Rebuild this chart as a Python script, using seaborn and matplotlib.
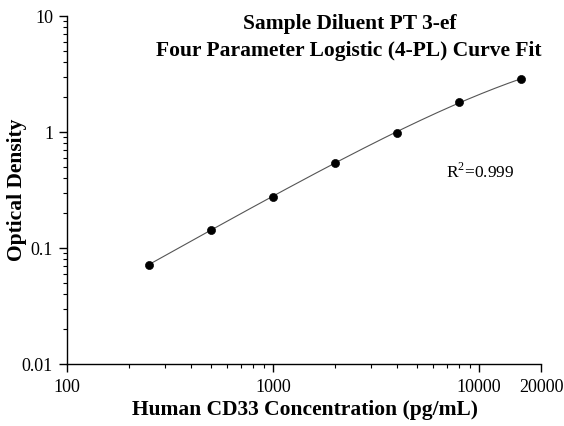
import numpy as np
import pandas as pd
import matplotlib.pyplot as plt
import seaborn as sns
from matplotlib.ticker import FixedLocator, FixedFormatter, LogLocator, NullFormatter

# standard concentrations (pg/mL) and measured optical density
conc = [250, 500, 1000, 2000, 4000, 8000, 16000]
od = [0.072, 0.144, 0.275, 0.538, 0.99, 1.83, 2.88]

# 4-PL fit parameters (bottom, slope, EC50, top)
fit_a, fit_b, fit_c, fit_d = 0.0, 1.0, 26000.0, 7.56

x_ticks = [100, 1000, 10000, 20000]
x_tick_labels = ["100", "1000", "10000", "20000"]
y_ticks = [0.01, 0.1, 1, 10]
y_tick_labels = ["0.01", "0.1", "1", "10"]

df = pd.DataFrame({"conc": conc, "od": od})
xs = np.logspace(np.log10(conc[0]), np.log10(conc[-1]), 200)
fit = pd.DataFrame({"conc": xs, "od": fit_d + (fit_a - fit_d) / (1 + (xs / fit_c) ** fit_b)})

sns.set_style("ticks")
plt.rcParams["font.family"] = ["Liberation Serif", "DejaVu Serif"]
plt.rcParams["mathtext.fontset"] = "custom"
plt.rcParams["mathtext.rm"] = "Liberation Serif"
plt.rcParams["text.color"] = "black"
plt.rcParams["axes.labelcolor"] = "black"

W, H = 564, 427
L, R, T, B = 67, 541, 17, 365
fig = plt.figure(figsize=(W / 100, H / 100), dpi=100)
ax = fig.add_axes([L / W, 1 - B / H, (R - L) / W, (B - T) / H])

sns.lineplot(data=fit, x="conc", y="od", ax=ax, color="#555555", linewidth=0.8)
sns.scatterplot(data=df, x="conc", y="od", ax=ax, color="black", s=34, edgecolor="black", zorder=3)

ax.set_xscale("log")
ax.set_yscale("log")
ax.set_xlim(100, 20000)
ax.set_ylim(0.01, 10)
ax.xaxis.set_major_locator(FixedLocator(x_ticks))
ax.xaxis.set_major_formatter(FixedFormatter(x_tick_labels))
ax.xaxis.set_minor_locator(LogLocator(base=10, subs=np.arange(2, 10)))
ax.xaxis.set_minor_formatter(NullFormatter())
ax.yaxis.set_major_locator(FixedLocator(y_ticks))
ax.yaxis.set_major_formatter(FixedFormatter(y_tick_labels))
ax.yaxis.set_minor_locator(LogLocator(base=10, subs=np.arange(2, 10)))
ax.yaxis.set_minor_formatter(NullFormatter())
ax.tick_params(which="major", direction="out", length=6, width=1, labelsize=13, pad=4,
               color="black", labelcolor="black")
ax.tick_params(which="minor", direction="out", length=3, width=0.8, color="black")
for s in ["left", "bottom"]:
    ax.spines[s].set_linewidth(1)
    ax.spines[s].set_color("black")
sns.despine(ax=ax)

ax.set_xlabel("Human CD33 Concentration (pg/mL)", fontsize=15.5, fontweight="bold")
ax.set_ylabel("Optical Density", fontsize=15.5, fontweight="bold")
ax.xaxis.label.set_va("center")
ax.yaxis.label.set_va("center")
ax.xaxis.set_label_coords((305 - L) / (R - L), -(410 - B) / (B - T))
ax.yaxis.set_label_coords((17 - L) / (R - L), (B - 190) / (B - T))

fig.text(350 / W, 1 - 24 / H, "Sample Diluent PT 3-ef", ha="center", va="center",
         fontsize=15.5, fontweight="bold")
fig.text(349 / W, 1 - 51 / H, "Four Parameter Logistic (4-PL) Curve Fit", ha="center", va="center",
         fontsize=15.5, fontweight="bold")
fig.text(446 / W, 1 - 172 / H, r"R$^{2}$=0.999", ha="left", va="center", fontsize=12.5)

fig.savefig("out.png", dpi=100)
